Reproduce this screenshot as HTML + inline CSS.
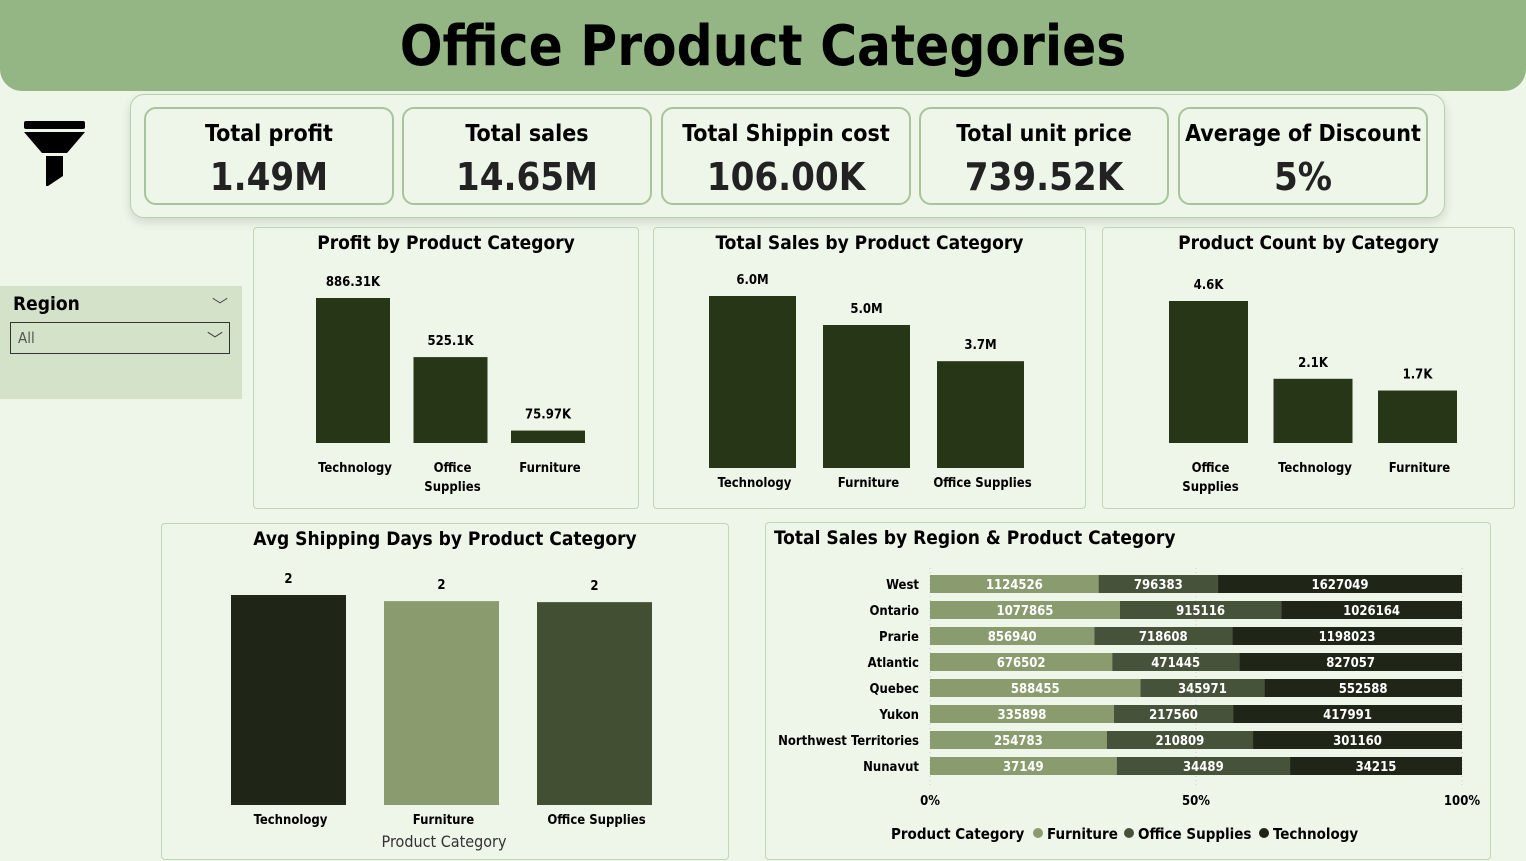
<!DOCTYPE html>
<html><head><meta charset="utf-8"><style>
body{margin:0;width:1526px;height:861px;background:#eef5e9;font-family:"DejaVu Sans Condensed","Liberation Sans",sans-serif;position:relative;overflow:hidden}
.abs{position:absolute}
.hdr{left:0;top:0;width:1526px;height:91px;background:#94b584;border-radius:0 0 22px 22px;text-align:center;font:bold 56px "DejaVu Sans Condensed",sans-serif;line-height:94px;color:#000}
.kwrap{left:130px;top:94px;width:1313px;height:122px;border:1.5px solid #b9d0ad;border-radius:14px;box-shadow:0 4px 10px rgba(0,0,0,0.12)}
.kpi{top:107px;width:246px;height:94px;border:2px solid #a9c49a;border-radius:12px;text-align:center}
.kpi .t{font:bold 23px "DejaVu Sans Condensed",sans-serif;margin-top:12px}
.kpi .v{font:bold 38px "DejaVu Sans Condensed",sans-serif;margin-top:8px;color:#222}
.panel{border:1.5px solid #c2d6b7;border-radius:4px}
.ptitle{font:bold 19px "DejaVu Sans Condensed",sans-serif;text-align:center}
svg text{font-family:"DejaVu Sans Condensed","Liberation Sans",sans-serif}
</style></head><body>
<div class="abs hdr">Office Product Categories</div>
<svg class="abs" style="left:22px;top:120px" width="64" height="68"><rect x="2" y="1" width="61" height="8" rx="2" fill="#000"/><polygon points="2,12 63,12 45,33 20,33" fill="#000"/><polygon points="24,36 41,36 41,56 26,66 24,66" fill="#000"/></svg>
<div class="abs kwrap"></div>
<div class="abs kpi" style="left:144px"><div class="t">Total profit</div><div class="v">1.49M</div></div>
<div class="abs kpi" style="left:402px"><div class="t">Total sales</div><div class="v">14.65M</div></div>
<div class="abs kpi" style="left:661px"><div class="t">Total Shippin cost</div><div class="v">106.00K</div></div>
<div class="abs kpi" style="left:919px"><div class="t">Total unit price</div><div class="v">739.52K</div></div>
<div class="abs kpi" style="left:1178px"><div class="t">Average of Discount</div><div class="v">5%</div></div>

<div class="abs" style="left:0;top:286px;width:242px;height:113px;background:#d3e2c8">
<div class="abs" style="left:13px;top:7px;font:bold 19px 'DejaVu Sans Condensed',sans-serif">Region</div>
<div class="abs" style="left:212px;top:6px;font-size:16px;color:#555">﹀</div>
<div class="abs" style="left:10px;top:36px;width:220px;height:32px;border:1.5px solid #333;box-sizing:border-box"><span style="position:absolute;left:7px;top:6px;font-size:15px;color:#555">All</span><span style="position:absolute;right:6px;top:3px;font-size:16px;color:#444">﹀</span></div>
</div>

<div class="abs panel" style="left:253px;top:227px;width:384px;height:280px"><div class="ptitle" style="margin-top:4px">Profit by Product Category</div></div>
<div class="abs panel" style="left:653px;top:227px;width:431px;height:280px"><div class="ptitle" style="margin-top:4px">Total Sales by Product Category</div></div>
<div class="abs panel" style="left:1102px;top:227px;width:411px;height:280px"><div class="ptitle" style="margin-top:4px">Product Count by Category</div></div>
<div class="abs panel" style="left:161px;top:523px;width:566px;height:335px"><div class="ptitle" style="margin-top:4px">Avg Shipping Days by Product Category</div></div>
<div class="abs panel" style="left:765px;top:522px;width:724px;height:336px"><div class="ptitle" style="margin-top:4px;text-align:left;padding-left:8px">Total Sales by Region &amp; Product Category</div></div>

<svg id="ch" class="abs" style="left:0;top:0" width="1526" height="861"></svg>
<script>
const profitCats=["Technology","Office\nSupplies","Furniture"];
const profitVals=[886.31,525.1,75.97];
const profitLabels=["886.31K","525.1K","75.97K"];
const salesCats=["Technology","Furniture","Office Supplies"];
const salesVals=[5.99,4.98,3.72];
const salesLabels=["6.0M","5.0M","3.7M"];
const countCats=["Office\nSupplies","Technology","Furniture"];
const countVals=[4.6,2.08,1.7];
const countLabels=["4.6K","2.1K","1.7K"];
const shipCats=["Technology","Furniture","Office Supplies"];
const shipVals=[2.06,2.0,1.99];
const shipLabels=["2","2","2"];
const regions=["West","Ontario","Prarie","Atlantic","Quebec","Yukon","Northwest Territories","Nunavut"];
const furnVals=[1124526,1077865,856940,676502,588455,335898,254783,37149];
const offVals=[796383,915116,718608,471445,345971,217560,210809,34489];
const techVals=[1627049,1026164,1198023,827057,552588,417991,301160,34215];

const svg=document.getElementById('ch');
const NS="http://www.w3.org/2000/svg";
function el(t,a,txt){const e=document.createElementNS(NS,t);for(const k in a)e.setAttribute(k,a[k]);if(txt!==undefined)e.textContent=txt;svg.appendChild(e);return e;}
function txt(x,y,s,size,fill,anchor,name){
  const lines=s.split("\n");
  lines.forEach((ln,i)=>{const t=el('text',{x:x,y:y+i*19,'font-size':size,'font-weight':'bold',fill:fill,'text-anchor':anchor||'middle'},ln);
  
  });
}
function barChart(cats,vals,labels,x0,step,w,base,scale,colors,catY,key){
  vals.forEach((v,i)=>{
    const h=v*scale,x=x0+i*step;
    const r=el('rect',{x:x,y:base-h,width:w,height:h,fill:colors[i]});
    
    
    txt(x+w/2,base-h-12,labels[i],13,'#000','middle',key+'-value-label');
    txt(x+w/2+2,catY,cats[i],13,'#000','middle',key+'-category-label');
  });
}
const dk="#283618";
barChart(profitCats,profitVals,profitLabels,316,97.5,74,443,145/886.31,[dk,dk,dk],472,'profit');
barChart(salesCats,salesVals,salesLabels,709,114,87,468,172/5.99,[dk,dk,dk],487,'sales');
barChart(countCats,countVals,countLabels,1169,104.5,79,443,142/4.6,[dk,dk,dk],472,'count');
barChart(shipCats,shipVals,shipLabels,231,153,115,805,210/2.06,["#1f2618","#8a9c6e","#434f33"],824,'shipping');
txt(444,847,"Product Category",16,'#333','middle','shipping-x-axis-title');
svg.lastChild.setAttribute('font-weight','normal');

const sx0=930,sw=532;
[0,0.5,1].forEach((p,i)=>{
  const l=el('line',{x1:sx0+p*sw,y1:568,x2:sx0+p*sw,y2:785,stroke:'#ccc','stroke-dasharray':'1,3'});
  
  
  txt(sx0+p*sw,805,["0%","50%","100%"][i],13,'#000','middle','x-tick-label');
});
const scols=["#8a9c6e","#46523a","#1f2618"];
regions.forEach((rg,i)=>{
  const y=575+i*26,vals=[furnVals[i],offVals[i],techVals[i]],tot=vals[0]+vals[1]+vals[2];
  let x=sx0;
  txt(919,y+14,rg,13,'#000','end','region-label');
  vals.forEach((v,j)=>{
    const w=v/tot*sw;
    const r=el('rect',{x:x,y:y,width:w,height:18,fill:scols[j]});
    
    
    txt(x+w/2,y+14,String(v),13,'#fff','middle','segment-value');
    x+=w;
  });
});
txt(891,839,"Product Category",15,'#000','start','legend-title');
[["Furniture",1038],["Office Supplies",1129],["Technology",1264]].forEach((l,j)=>{
  const c=el('circle',{cx:l[1],cy:833,r:5,fill:scols[j]});
  
  
  txt(l[1]+9,839,l[0],15,'#000','start','legend-entry');
});
</script>
</body></html>
